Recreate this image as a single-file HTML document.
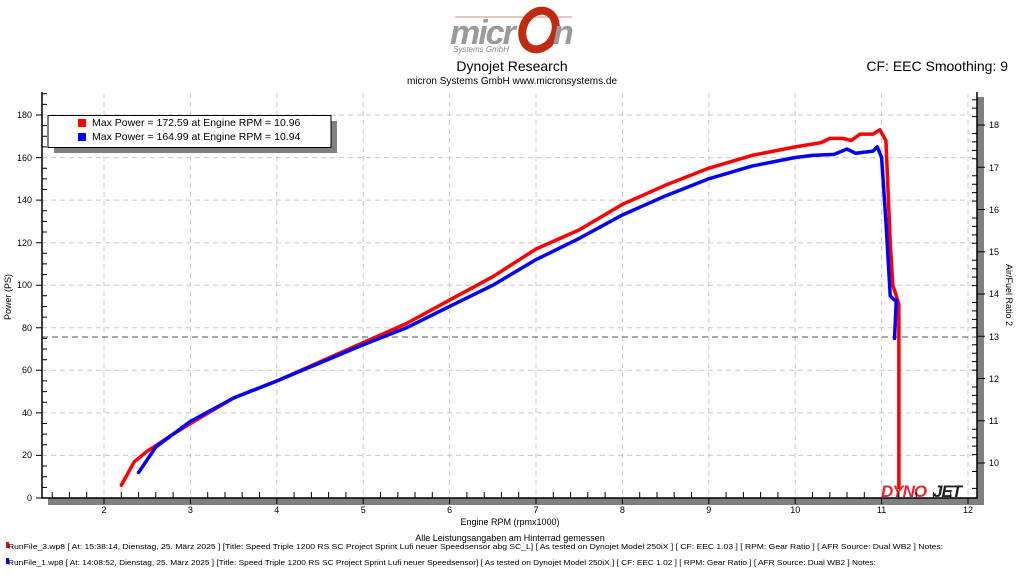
<!DOCTYPE html>
<html><head><meta charset="utf-8"><style>
body{margin:0;background:#fff;width:1024px;height:576px;overflow:hidden;font-family:"Liberation Sans",sans-serif}
svg{display:block}
</style></head><body>
<svg width="1024" height="576" viewBox="0 0 1024 576" font-family="Liberation Sans, sans-serif">
<!-- logo -->
<line x1="455" y1="17" x2="572" y2="17" stroke="#d08a80" stroke-width="1"/>
<ellipse cx="539" cy="30" rx="16" ry="20" fill="none" stroke="#c02a10" stroke-width="8" transform="rotate(25 539 30)"/>
<text x="450" y="44" font-size="34" font-weight="bold" font-style="italic" fill="#9a9a9a" letter-spacing="-2">micr</text>
<text x="553" y="44" font-size="34" font-weight="bold" font-style="italic" fill="#9a9a9a">n</text>
<text x="453" y="52" font-size="8" font-style="italic" fill="#888">Systems GmbH</text>
<text x="512" y="71" font-size="14" text-anchor="middle">Dynojet Research</text>
<text x="512" y="84" font-size="10" text-anchor="middle">micron Systems GmbH  www.micronsystems.de</text>
<text x="1008" y="71" font-size="14" text-anchor="end">CF: EEC Smoothing: 9</text>
<!-- shadows -->
<rect x="48" y="498" width="936" height="7" fill="#808080"/>
<rect x="977" y="97" width="7" height="408" fill="#808080"/>
<!-- grid -->
<g stroke="#c8c8c8" stroke-dasharray="5,4" stroke-width="1">
<line x1="104" y1="93" x2="104" y2="498"/><line x1="190.4" y1="93" x2="190.4" y2="498"/><line x1="276.8" y1="93" x2="276.8" y2="498"/><line x1="363.2" y1="93" x2="363.2" y2="498"/><line x1="449.6" y1="93" x2="449.6" y2="498"/><line x1="536" y1="93" x2="536" y2="498"/><line x1="622.4" y1="93" x2="622.4" y2="498"/><line x1="708.8" y1="93" x2="708.8" y2="498"/><line x1="795.2" y1="93" x2="795.2" y2="498"/><line x1="881.6" y1="93" x2="881.6" y2="498"/><line x1="968" y1="93" x2="968" y2="498"/>
<line x1="42" y1="455.4" x2="977" y2="455.4"/><line x1="42" y1="412.9" x2="977" y2="412.9"/><line x1="42" y1="370.3" x2="977" y2="370.3"/><line x1="42" y1="327.8" x2="977" y2="327.8"/><line x1="42" y1="285.2" x2="977" y2="285.2"/><line x1="42" y1="242.7" x2="977" y2="242.7"/><line x1="42" y1="200.1" x2="977" y2="200.1"/><line x1="42" y1="157.6" x2="977" y2="157.6"/><line x1="42" y1="115" x2="977" y2="115"/>
</g>
<line x1="42" y1="337" x2="977" y2="337" stroke="#555" stroke-dasharray="6,4"/>
<!-- frame -->
<path d="M42 92 V498 H977 V92" fill="none" stroke="#000" stroke-width="1.5"/>
<g font-size="9" fill="#000">
<g text-anchor="end">
<text x="32" y="501">0</text><text x="32" y="458">20</text><text x="32" y="416">40</text><text x="32" y="373">60</text><text x="32" y="331">80</text><text x="32" y="288">100</text><text x="32" y="246">120</text><text x="32" y="203">140</text><text x="32" y="161">160</text><text x="32" y="118">180</text>
</g>
<g text-anchor="middle">
<text x="104" y="513">2</text><text x="190.4" y="513">3</text><text x="276.8" y="513">4</text><text x="363.2" y="513">5</text><text x="449.6" y="513">6</text><text x="536" y="513">7</text><text x="622.4" y="513">8</text><text x="708.8" y="513">9</text><text x="795.2" y="513">10</text><text x="881.6" y="513">11</text><text x="968" y="513">12</text>
</g>
<g>
<text x="989" y="466">10</text><text x="989" y="424">11</text><text x="989" y="382">12</text><text x="989" y="340">13</text><text x="989" y="297">14</text><text x="989" y="255">15</text><text x="989" y="213">16</text><text x="989" y="171">17</text><text x="989" y="128">18</text>
</g>
<text x="510" y="525" text-anchor="middle">Engine RPM (rpmx1000)</text>
<text x="510" y="541" text-anchor="middle">Alle Leistungsangaben am Hinterrad gemessen</text>
<text transform="translate(11,297) rotate(-90)" text-anchor="middle">Power (PS)</text>
<text transform="translate(1006,295) rotate(90)" text-anchor="middle">Air/Fuel Ratio 2</text>
</g>
<!-- curves -->
<g transform="translate(104,498) scale(86.4,-2.128)" fill="none" stroke-width="3.5" stroke-linejoin="round" stroke-linecap="round">
<polyline vector-effect="non-scaling-stroke" stroke="#ff0000" points="0.2,6 0.35,17 0.5,22 0.8,30 1,35 1.5,47 2,55 2.5,64 3,73 3.5,82 4,93 4.5,104 5,117 5.5,126 6,138 6.5,147 7,155 7.5,161 8,165 8.3,167 8.4,169 8.55,169 8.65,168 8.75,171 8.9,171 8.98,173 9.05,168 9.1,120 9.13,100 9.17,95 9.2,91 9.2,5"/>
<polyline vector-effect="non-scaling-stroke" stroke="#0000ff" points="0.4,12 0.6,24 0.8,30 1,36 1.5,47 2,55 2.5,63.5 3,72 3.5,80 4,90 4.5,100 5,112 5.5,122 6,133 6.5,142 7,150 7.5,156 8,160 8.2,161 8.45,161.5 8.6,164 8.7,162 8.9,163 8.95,165 9,160 9.05,130 9.1,95 9.15,93 9.17,93 9.15,75"/>
</g>
<!-- dynojet logo -->
<text x="881" y="497" font-size="17" font-weight="bold" font-style="italic" fill="#e8242f" letter-spacing="-1">DYNO</text>
<text x="933" y="497" font-size="17" font-weight="bold" font-style="italic" fill="#222" letter-spacing="-1">JET</text>
<!-- legend -->
<rect x="54" y="121" width="283" height="32" fill="#808080"/>
<rect x="48" y="115.5" width="283" height="32" fill="#fff" stroke="#000" stroke-width="1"/>
<rect x="78" y="119" width="8" height="8" fill="#ff0000"/>
<rect x="78" y="133" width="8" height="8" fill="#0000ff"/>
<text x="92" y="126" font-size="10.5">Max Power = 172.59 at Engine RPM = 10.96</text>
<text x="92" y="140" font-size="10.5">Max Power = 164.99 at Engine RPM = 10.94</text>
<!-- footer -->
<rect x="6" y="542" width="3" height="6" fill="#ff0000"/>
<rect x="6" y="558" width="3" height="6" fill="#0000ff"/>
<text x="8" y="549" font-size="7.2" textLength="935" lengthAdjust="spacingAndGlyphs">RunFile_3.wp8 [ At: 15:38:14, Dienstag, 25. März 2025 ] [Title: Speed Triple 1200 RS SC Project Sprint Lufi neuer Speedsensor abg SC_L]  [ As tested on Dynojet Model 250iX ] [ CF: EEC 1.03 ] [ RPM: Gear Ratio ] [ AFR Source: Dual WB2 ] Notes:</text>
<text x="8" y="565" font-size="7.2" textLength="868" lengthAdjust="spacingAndGlyphs">RunFile_1.wp8 [ At: 14:08:52, Dienstag, 25. März 2025 ] [Title: Speed Triple 1200 RS SC Project Sprint Lufi neuer Speedsensor]  [ As tested on Dynojet Model 250iX ] [ CF: EEC 1.02 ] [ RPM: Gear Ratio ] [ AFR Source: Dual WB2 ] Notes:</text>
<path stroke="#000" stroke-width="1" fill="none" d="
M36 498H42 M36 455.4H42 M36 412.9H42 M36 370.3H42 M36 327.8H42 M36 285.2H42 M36 242.7H42 M36 200.1H42 M36 157.6H42 M36 115H42
M42 487.4h5 M42 476.7h5 M42 466h5 M42 444.8h5 M42 434.1h5 M42 423.5h5 M42 402.2h5 M42 391.6h5 M42 380.9h5 M42 359.7h5 M42 349h5 M42 338.4h5 M42 317.1h5 M42 306.5h5 M42 295.8h5 M42 274.6h5 M42 263.9h5 M42 253.3h5 M42 232h5 M42 221.4h5 M42 210.8h5 M42 189.5h5 M42 178.9h5 M42 168.2h5 M42 146.9h5 M42 136.3h5 M42 125.6h5 M42 104.4h5 M42 93.7h5
M104 498v6 M190.4 498v6 M276.8 498v6 M363.2 498v6 M449.6 498v6 M536 498v6 M622.4 498v6 M708.8 498v6 M795.2 498v6 M881.6 498v6 M968 498v6
M977 463h8 M977 420.8h8 M977 378.5h8 M977 336.3h8 M977 294h8 M977 251.8h8 M977 209.5h8 M977 167.3h8 M977 125h8
"/>
<path stroke="#000" stroke-width="1" fill="none" d="M52.2 498v-6 M69.4 498v-6 M86.7 498v-6 M121.3 498v-6 M138.6 498v-6 M155.8 498v-6 M173.1 498v-6 M207.7 498v-6 M225 498v-6 M242.2 498v-6 M259.5 498v-6 M294.1 498v-6 M311.4 498v-6 M328.6 498v-6 M345.9 498v-6 M380.5 498v-6 M397.8 498v-6 M415 498v-6 M432.3 498v-6 M466.9 498v-6 M484.2 498v-6 M501.4 498v-6 M518.7 498v-6 M553.3 498v-6 M570.6 498v-6 M587.8 498v-6 M605.1 498v-6 M639.7 498v-6 M657 498v-6 M674.2 498v-6 M691.5 498v-6 M726.1 498v-6 M743.4 498v-6 M760.6 498v-6 M777.9 498v-6 M812.5 498v-6 M829.8 498v-6 M847 498v-6 M864.3 498v-6 M898.9 498v-6 M916.2 498v-6 M933.4 498v-6 M950.7 498v-6
M977 488.4h-5 M977 471.5h-5 M977 454.6h-5 M977 446.1h-5 M977 437.7h-5 M977 429.2h-5 M977 412.3h-5 M977 403.9h-5 M977 395.4h-5 M977 387h-5 M977 370.1h-5 M977 361.6h-5 M977 353.2h-5 M977 344.7h-5 M977 327.8h-5 M977 319.4h-5 M977 310.9h-5 M977 302.5h-5 M977 285.6h-5 M977 277.1h-5 M977 268.7h-5 M977 260.2h-5 M977 243.3h-5 M977 234.9h-5 M977 226.4h-5 M977 218h-5 M977 201.1h-5 M977 192.6h-5 M977 184.2h-5 M977 175.7h-5 M977 158.8h-5 M977 150.4h-5 M977 141.9h-5 M977 133.5h-5 M977 116.6h-5 M977 108.1h-5 M977 99.7h-5"/>
</svg>
</body></html>
